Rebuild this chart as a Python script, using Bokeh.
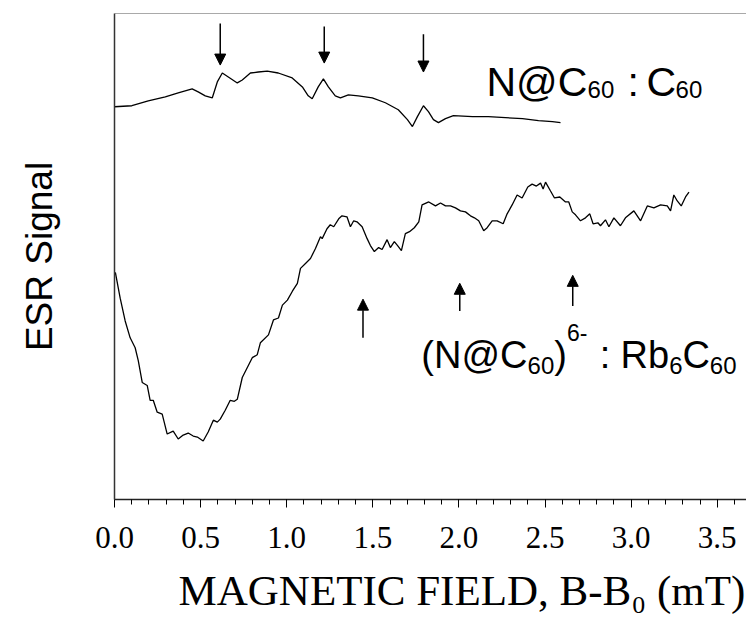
from bokeh.plotting import figure
from bokeh.models import (Range1d, Label, Arrow, NormalHead, Span, SingleIntervalTicker,
                          FixedTicker, NumeralTickFormatter, Title)
from bokeh.embed import file_html
from bokeh.resources import INLINE

# ---- data (magnetic field B-B0 in mT, ESR signal in arbitrary units) ----
top_x = [0.0, 0.101, 0.196, 0.295, 0.370, 0.451, 0.486, 0.527, 0.568, 0.597, 0.626, 0.661,
         0.713, 0.742, 0.789, 0.835, 0.887, 0.951, 1.032, 1.091, 1.125, 1.148, 1.183, 1.213,
         1.242, 1.282, 1.312, 1.358, 1.416, 1.497, 1.573, 1.648, 1.701, 1.730, 1.759, 1.794,
         1.823, 1.852, 1.881, 1.922, 1.968, 2.079, 2.171, 2.270, 2.369, 2.462, 2.543, 2.590]
top_y = [398, 399, 404, 408, 412, 416, 413, 409, 407, 423, 432, 428,
         422, 425, 432, 433, 434, 432, 427, 418, 409, 406, 418, 426,
         418, 409, 407, 410, 409, 407, 402, 395, 385, 378, 388, 399,
         393, 385, 382, 386, 389, 388, 388, 387, 386, 384, 383, 382]

bot_x = [0.005, 0.033, 0.062, 0.091, 0.120, 0.138, 0.161, 0.190, 0.207, 0.225, 0.248, 0.277,
         0.306, 0.341, 0.370, 0.399, 0.428, 0.457, 0.481, 0.515, 0.544, 0.574, 0.597, 0.614,
         0.643, 0.672, 0.696, 0.713, 0.742, 0.800, 0.829, 0.847, 0.894, 0.923, 0.952, 0.975,
         1.004, 1.033, 1.062, 1.080, 1.109, 1.138, 1.167, 1.196, 1.206, 1.234, 1.253, 1.273,
         1.302, 1.321, 1.350, 1.370, 1.389, 1.408, 1.438, 1.467, 1.486, 1.509, 1.534, 1.554,
         1.583, 1.602, 1.625, 1.644, 1.666, 1.689, 1.713, 1.741, 1.767, 1.786, 1.825, 1.864,
         1.893, 1.922, 1.951, 1.980, 2.009, 2.038, 2.067, 2.090, 2.115, 2.144, 2.164, 2.193,
         2.222, 2.257, 2.280, 2.309, 2.338, 2.367, 2.400, 2.425, 2.450, 2.474, 2.489, 2.503,
         2.532, 2.555, 2.586, 2.619, 2.638, 2.658, 2.677, 2.706, 2.735, 2.760, 2.779, 2.807,
         2.822, 2.851, 2.871, 2.900, 2.938, 2.967, 3.016, 3.055, 3.094, 3.132, 3.171, 3.210,
         3.229, 3.248, 3.268, 3.291, 3.316, 3.336]
bot_y = [231, 205, 182, 165, 155, 142, 120, 117, 102, 102, 90, 88,
         68, 71, 63, 67, 69, 66, 65, 61, 70, 82, 80, 83,
         92, 102, 101, 103, 125, 145, 148, 160, 168, 183, 185, 198,
         203, 212, 220, 235, 240, 245, 255, 267, 265, 275, 279, 277,
         285, 288, 287, 277, 283, 282, 277, 265, 258, 252, 256, 254,
         264, 256, 262, 258, 253, 270, 272, 276, 282, 299, 302, 298,
         301, 298, 298, 296, 293, 292, 288, 286, 283, 273, 276, 283,
         283, 280, 290, 299, 309, 306, 317, 320, 318, 321, 315, 322,
         313, 306, 307, 302, 302, 292, 289, 283, 286, 290, 280, 281,
         278, 284, 277, 286, 278, 286, 293, 283, 298, 296, 299, 298,
         293, 309, 303, 298, 307, 312]

# marker arrows (field positions of the hyperfine lines)
down_x = [0.614, 1.218, 1.794]
down_y0 = [482, 479, 471]
down_y1 = [440, 442, 433]
up_x = [1.443, 2.005, 2.661]
up_y0 = [165, 192, 197]
up_y1 = [204, 220, 228]

x_ticks_interval = 0.5
x_title = "MAGNETIC FIELD, B-B\u2080 (mT)"
y_title = "ESR Signal"

p = figure(width=746, height=627, output_backend="svg", toolbar_location=None,
           x_range=Range1d(0, 3.670), y_range=Range1d(2, 492),
           min_border_left=114, min_border_right=0, min_border_top=13, min_border_bottom=124)
p.outline_line_color = None
p.grid.visible = False
p.background_fill_color = "white"
p.border_fill_color = "white"

p.line(top_x, top_y, line_color="black", line_width=1.3)
p.line(bot_x, bot_y, line_color="black", line_width=1.3)

for x, y0, y1 in zip(down_x + up_x, down_y0 + up_y0, down_y1 + up_y1):
    p.add_layout(Arrow(end=NormalHead(size=11, fill_color="black", line_color="black"),
                       x_start=x, y_start=y0, x_end=x, y_end=y1,
                       line_color="black", line_width=1.5))

# top frame line
p.add_layout(Span(location=492, dimension="width", line_color="#555555", line_width=1))

# x axis
xa = p.xaxis[0]
xa.ticker = SingleIntervalTicker(interval=x_ticks_interval, num_minor_ticks=5)
xa.formatter = NumeralTickFormatter(format="0.0")
xa.major_label_text_font = "Liberation Serif"
xa.major_label_text_font_size = "31px"
xa.major_label_text_color = "black"
xa.major_tick_in = 0
xa.major_tick_out = 8
xa.minor_tick_in = 0
xa.minor_tick_out = 5
xa.major_label_standoff = 19
xa.axis_line_color = "#222222"
xa.axis_line_width = 1.5

p.add_layout(Title(text=x_title, align="left", offset=64, standoff=28,
                   text_font="Liberation Serif", text_font_size="43px",
                   text_font_style="normal", text_color="black"), "below")

# y axis
ya = p.yaxis[0]
ya.ticker = FixedTicker(ticks=[])
ya.axis_line_color = "#333333"
ya.axis_line_width = 1.5
ya.major_tick_out = 0
ya.major_tick_in = 0
ya.major_tick_line_color = None
ya.minor_tick_line_color = None
ya.axis_label = y_title
ya.axis_label_text_font = "Liberation Sans"
ya.axis_label_text_font_size = "37px"
ya.axis_label_text_font_style = "normal"
ya.axis_label_text_color = "black"
ya.axis_label_standoff = 55

def lab(x, y, text, size, font="Liberation Sans"):
    p.add_layout(Label(x=x, y=y, text=text, text_font=font, text_font_size=size,
                       text_color="black", text_baseline="alphabetic", text_align="left"))

# upper label: N@C60 : C60
lab(2.160, 423, "N@C", "41px")
lab(2.747, 415, "60", "24px")
lab(2.979, 423, ":", "41px")
lab(3.090, 423, "C", "41px")
lab(3.258, 415, "60", "24px")

# lower label: (N@C60)6- : Rb6C60
lab(1.782, 148, "(N@C", "38px")
lab(2.399, 137, "60", "24px")
lab(2.554, 148, ")", "38px")
lab(2.628, 170, "6-", "23px")
lab(2.818, 148, ":", "38px")
lab(2.938, 148, "Rb", "38px")
lab(3.221, 137, "6", "24px")
lab(3.298, 148, "C", "38px")
lab(3.457, 137, "60", "24px")

open("out.html", "w").write(file_html(p, INLINE))
